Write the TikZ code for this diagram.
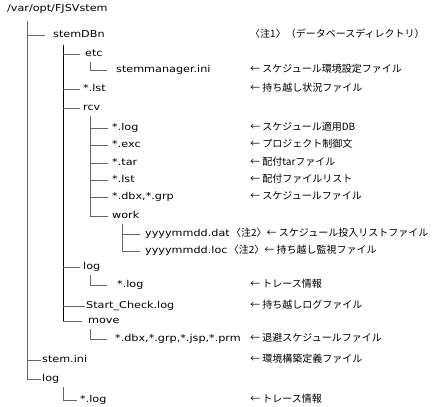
\documentclass[tikz,border=0pt]{standalone}
\usepackage{fontspec}
\setmainfont[FakeStretch=1.18]{DejaVu Sans}
\newfontfamily\jpfont{Noto Sans CJK JP}
\usetikzlibrary{positioning}
\tikzset{
  item/.style={anchor=west, inner sep=0pt, text height=7pt, text depth=2pt, font=\fontsize{9.5}{12}\selectfont},
  note/.style={item, font=\jpfont\fontsize{10}{12}\selectfont},
  rail/.style={draw=black!60, line width=0.8pt},
  rail2/.style={draw=black, line width=0.8pt},
}
\begin{document}
\begin{tikzpicture}[x=1pt, y=-1pt]
    \useasboundingbox (0,0) rectangle (438,406);
    \node[item] (root) at (7,9) {/var/opt/FJSVstem};
    \node[item] (stemdb) at (53,35) {stemDBn};
    \node[item] (etc) at (85,54) {etc};
    \node[item] (manager) at (116,70) {stemmanager.ini};
    \node[item] (lsta) at (83,89) {*.lst};
    \node[item] (rcv) at (83,108) {rcv};
    \node[item] (rlog) at (112,128) {*.log};
    \node[item] (rexc) at (112,145) {*.exc};
    \node[item] (rtar) at (112,163) {*.tar};
    \node[item] (rlst) at (112,180) {*.lst};
    \node[item] (rdbx) at (112,197) {*.dbx,*.grp};
    \node[item] (work) at (112,216) {work};
    \node[item] (dat) at (145,234) {yyyymmdd.dat};
    \node[item] (loc) at (145,251) {yyyymmdd.loc};
    \node[item] (loga) at (83,267) {log};
    \node[item] (logafile) at (117,285) {*.log};
    \node[item] (check) at (86,306) {Start\_Check.log};
    \node[item] (move) at (88,321) {move};
    \node[item] (movefile) at (115,339) {*.dbx,*.grp,*.jsp,*.prm};
    \node[item] (ini) at (42,360) {stem.ini};
    \node[item] (logb) at (42,379) {log};
    \node[item] (logbfile) at (80,400) {*.log};
    % notes
    \node[note] (nstemdb) at (250,35) {〈注1〉（データベースディレクトリ）};
    \node[note] (nmanager) at (250,70) {← スケジュール環境設定ファイル};
    \node[note] (nlsta) at (250,89) {← 持ち越し状況ファイル};
    \node[note] (nrlog) at (250,128) {← スケジュール適用DB};
    \node[note] (nrexc) at (250,145) {← プロジェクト制御文};
    \node[note] (nrtar) at (250,163) {← 配付tarファイル};
    \node[note] (nrlst) at (250,180) {← 配付ファイルリスト};
    \node[note] (nrdbx) at (250,197) {← スケジュールファイル};
    \node[note, right=1pt of dat] (ndat) {〈注2〉← スケジュール投入リストファイル};
    \node[note, right=1pt of loc] (nloc) {〈注2〉← 持ち越し監視ファイル};
    \node[note] (nlogafile) at (250,285) {← トレース情報};
    \node[note] (ncheck) at (250,306) {← 持ち越しログファイル};
    \node[note] (nmovefile) at (250,339) {← 退避スケジュールファイル};
    \node[note] (nini) at (250,360) {← 環境構築定義ファイル};
    \node[note] (nlogbfile) at (250,400) {← トレース情報};
    % tree lines
    \coordinate (t1) at (27,21);
    \coordinate (t2) at (63,45);
    \coordinate (t3) at (90,62);
    \coordinate (t4) at (90,116);
    \coordinate (t5) at (122,224);
    \coordinate (t6) at (90,275);
    \coordinate (t7) at (90,329);
    \coordinate (t8) at (63,387);
    \draw[rail] (t1) |- ([xshift=-1pt]logb.west);
    \draw[rail] (t1 |- stemdb) -- ([xshift=-8pt]stemdb.west);
    \draw[rail] (t1 |- ini) -- ([xshift=-1pt]ini.west);
    \draw[rail2] (t2) -- (t2 |- move);
    \foreach \n in {etc, lsta, rcv, loga}
      \draw[rail] (t2 |- \n) -- ++(17,0);
    \draw[rail] (t2 |- check) -- ([xshift=-1pt]check.west);
    \draw[rail] (t2 |- move) -- ++(19,0);
    \draw[rail] (t3) |- ([xshift=-9pt]manager.west);
    \draw[rail] (t4) -- (t4 |- work);
    \foreach \n in {rlog, rexc, rtar, rlst, rdbx, work}
      \draw[rail] (t4 |- \n) -- ([xshift=-4pt]\n.west);
    \draw[rail] (t5) -- (t5 |- loc);
    \foreach \n in {dat, loc}
      \draw[rail] (t5 |- \n) -- ([xshift=-5pt]\n.west);
    \draw[rail] (t6) |- ([xshift=-10pt]logafile.west);
    \draw[rail] (t7) |- ([xshift=-8pt]movefile.west);
    \draw[rail] (t8) |- ([xshift=-3pt]logbfile.west);
  \end{tikzpicture}
\end{document}
